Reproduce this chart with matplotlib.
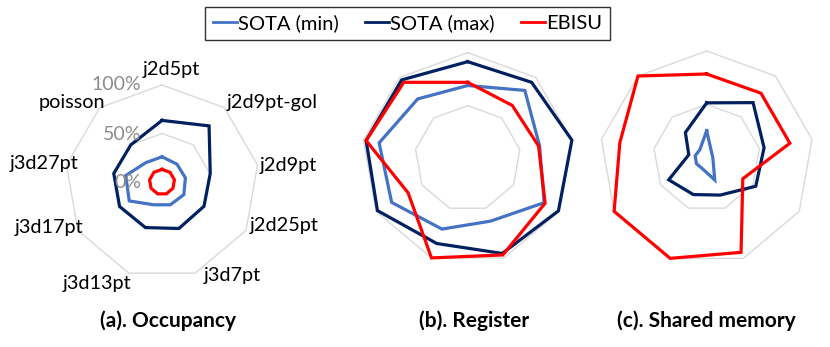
import numpy as np
import matplotlib
matplotlib.use("Agg")
import matplotlib.pyplot as plt
from matplotlib.lines import Line2D

plt.rcParams['font.family'] = ['Lato', 'DejaVu Sans']

categories = ['j2d5pt', 'j2d9pt-gol', 'j2d9pt', 'j2d25pt', 'j3d7pt',
              'j3d13pt', 'j3d17pt', 'j3d27pt', 'poisson']
series_names = ['SOTA (min)', 'SOTA (max)', 'EBISU']

occ_min = [0.26, 0.24, 0.245, 0.26, 0.25, 0.25, 0.39, 0.38, 0.26]
occ_max = [0.635, 0.755, 0.505, 0.50, 0.51, 0.50, 0.505, 0.505, 0.50]
occ_ebisu = [0.13, 0.13, 0.13, 0.13, 0.13, 0.13, 0.13, 0.13, 0.13]

reg_min = [0.69, 0.84, 0.69, 0.835, 0.63, 0.71, 0.83, 0.85, 0.735]
reg_max = [0.915, 0.94, 1.00, 0.99, 0.955, 0.855, 0.985, 0.975, 0.97]
reg_ebisu = [0.72, 0.655, 0.68, 0.845, 0.97, 1.00, 0.65, 0.975, 0.94]

smem_min = [0.255, 0.07, 0.057, 0.07, 0.22, 0.11, 0.11, 0.11, 0.10]
smem_max = [0.515, 0.675, 0.545, 0.53, 0.37, 0.365, 0.41, 0.17, 0.31]
smem_ebisu = [0.785, 0.79, 0.79, 0.39, 0.94, 1.00, 1.00, 0.825, 1.00]

grid_levels = [0.5, 1.0]
tick_labels = ['100%', '50%', '0%']
titles = ['(a). Occupancy', '(b). Register', '(c). Shared memory']

colors = ['#4472C4', '#002060', '#FF0000']

W, H = 830, 347
fig = plt.figure(figsize=(W / 100, H / 100), dpi=100)

def fx(px):
    return px / W

def fy(py):
    return 1 - py / H

def make_radar(cx, cy, R, data):
    ax = fig.add_axes([fx(cx - R), fy(cy + R), 2 * R / W, 2 * R / H], projection='polar')
    ax.set_theta_offset(np.pi / 2)
    ax.set_theta_direction(-1)
    ax.set_ylim(0, 1)
    ax.grid(False)
    ax.spines['polar'].set_visible(False)
    ax.set_xticks([])
    ax.set_yticks([])
    ax.patch.set_alpha(0)
    n = len(categories)
    theta = np.linspace(0, 2 * np.pi, n, endpoint=False)
    tc = np.append(theta, theta[0])
    for g in grid_levels:
        ax.plot(tc, [g] * (n + 1), color='#d9d9d9', lw=1.0, clip_on=False, zorder=1)
    for vals, col in zip(data, colors):
        vc = np.append(vals, vals[0])
        ax.plot(tc, vc, color=col, lw=2.3, clip_on=False, zorder=3,
                solid_joinstyle='miter')
    return ax

make_radar(162, 182, 97, [occ_min, occ_max, occ_ebisu])
make_radar(467.7, 158.5, 105.8, [reg_min, reg_max, reg_ebisu])
make_radar(706.7, 157.9, 106.9, [smem_min, smem_max, smem_ebisu])

# category labels around chart (a)
label_pos = [(171, 70), (272, 102), (288, 165), (284, 225), (232, 275),
             (97, 283), (49, 227), (44, 163), (72, 102)]
for name, (x, y) in zip(categories, label_pos):
    fig.text(fx(x), fy(y), name, ha='center', va='center', fontsize=14.3, color='black')

# percentage tick labels
for t, y in zip(tick_labels, [85, 135, 183]):
    fig.text(fx(141), fy(y), t, ha='right', va='center', fontsize=14, color='#8c8c8c')

# titles
for t, x in zip(titles, [168, 474.5, 706]):
    fig.text(fx(x), fy(321), t, ha='center', va='center', fontsize=15, fontweight='bold')

handles = [Line2D([0], [0], color=c, lw=2) for c in colors]
leg = fig.legend(handles, series_names, loc='center', bbox_to_anchor=(fx(407.5), fy(23.5)),
                 ncol=3, frameon=True, fancybox=False, edgecolor='black', fontsize=14.5,
                 handlelength=1.2, handletextpad=0.05, columnspacing=1.3,
                 borderpad=0.38)
leg.get_frame().set_linewidth(1.0)

fig.savefig('out.png', dpi=100)
